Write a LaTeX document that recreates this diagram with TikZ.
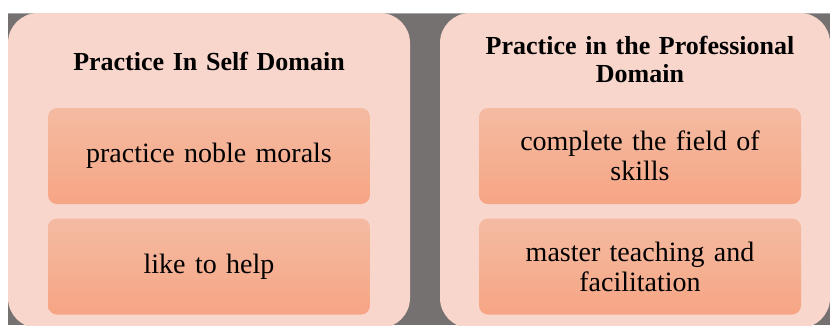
\documentclass[tikz,border=0pt]{standalone}
\usepackage{fontspec}
\setmainfont{Liberation Serif}
\definecolor{bggray}{HTML}{767171}
\definecolor{outerfill}{HTML}{F8D6CC}
\definecolor{innertop}{HTML}{F4BBA2}
\definecolor{innerbot}{HTML}{F6A584}
\tikzset{
  outerbox/.style={draw=none, fill=outerfill, rounded corners=30pt, inner sep=0pt},
  innerbox/.style={draw=none, top color=innertop, bottom color=innerbot, rounded corners=9pt,
    minimum width=322pt, minimum height=96pt, align=center, text width=310pt,
    font=\fontsize{28}{30}\selectfont, inner sep=0pt},
  titletext/.style={align=center, font=\fontsize{26}{28}\selectfont\bfseries, text width=380pt}
}
\begin{document}
\begin{tikzpicture}[x=1pt,y=-1pt]
\useasboundingbox (0,0) rectangle (830,325);
\fill[bggray] (8,13) rectangle (830,325);
\draw[gray!70, line width=0.6pt] (8,13.3) -- (830,13.3);
\begin{scope}
\clip (0,0) rectangle (830,325);
\node[outerbox, minimum width=402pt, minimum height=315pt] (L) at (209,170.5) {};
\node[outerbox, minimum width=390pt, minimum height=315pt] (R) at (635,170.5) {};
\end{scope}
\node[titletext] (Lt) at (209,61) {Practice In Self Domain};
\node[titletext] (Rt) at (640,59) {Practice in the Professional\\Domain};
\node[innerbox] (L1) at (209,156) {practice noble morals};
\node[innerbox] (L2) at (209,266.5) {like to help};
\node[innerbox] (R1) at (640,156) {complete the field of\\skills};
\node[innerbox] (R2) at (640,266.5) {master teaching and\\facilitation};
\end{tikzpicture}
\end{document}
